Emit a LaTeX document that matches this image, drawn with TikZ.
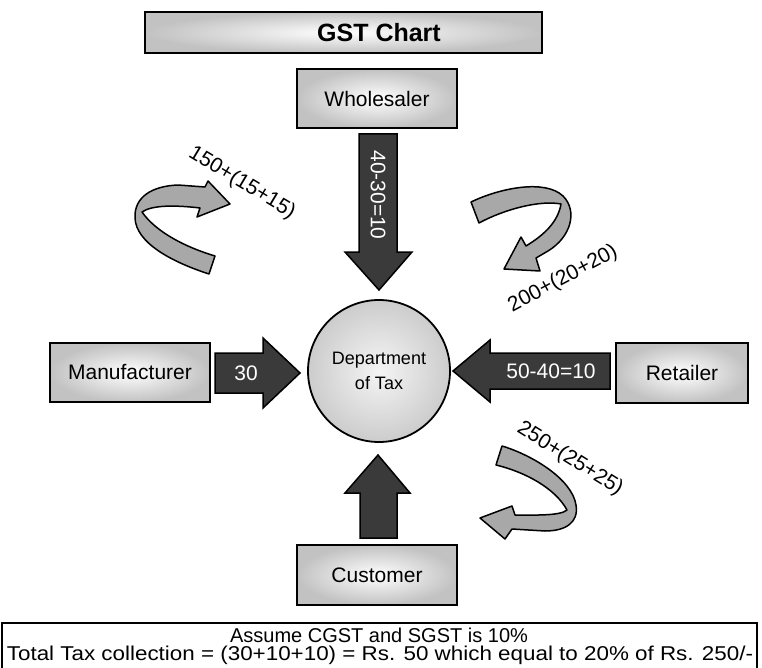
\documentclass[tikz,border=0pt]{standalone}
\usepackage{fontspec}
\setmainfont{Liberation Sans}
\definecolor{darkarrow}{HTML}{3A3A3A}
\definecolor{ribbon}{HTML}{A8A8A8}
\begin{document}
\begin{tikzpicture}[x=1pt,y=-1pt,
  box/.style={draw=black, line width=1.8pt, inner color=white, outer color=black!24, shading=radial,
    font=\fontsize{21}{24}\selectfont, inner sep=0pt},
  blockarrow/.style={draw=black, line width=1.5pt, fill=darkarrow, line join=miter},
  curvearrow/.style={draw=black, line width=1.5pt, fill=ribbon, line join=round},
  lbl/.style={font=\fontsize{21}{24}\selectfont, inner sep=0pt},
  wlbl/.style={font=\fontsize{21}{24}\selectfont, text=white, inner sep=0pt}]
\useasboundingbox (0,0) rectangle (762,668);

% boxes
\node[box, minimum width=397pt, minimum height=41pt] (title) at (343.5,32.5) {};
\node[font=\bfseries\fontsize{25}{28}\selectfont, inner sep=0pt] (titletext) at (379,32.5) {GST Chart};
\node[box, minimum width=160pt, minimum height=59pt] (whole) at (377,98.5) {Wholesaler};
\node[box, minimum width=160pt, minimum height=59pt] (manu) at (130,372.5) {Manufacturer};
\node[box, minimum width=132pt, minimum height=60pt] (retail) at (682,373) {Retailer};
\node[box, minimum width=160pt, minimum height=60pt] (cust) at (377,575) {Customer};
\node[draw=black, line width=1.8pt, circle, minimum size=142pt, inner sep=0pt, inner color=black!4, outer color=black!20,
  shading=radial, align=center, font=\fontsize{18}{25}\selectfont] (dept) at (379,371) {Department\\of Tax};

% dark block arrows
\draw[blockarrow] (359,134) -- (397,134) -- (397,252) -- (412,252) -- (379,290) -- (345,252) -- (359,252) -- cycle;
\node[wlbl, rotate=-90] (t1) at (378,195) {40-30=10};
\draw[blockarrow] (215,353) -- (263,353) -- (263,338) -- (300,373) -- (263,408) -- (263,393) -- (215,393) -- cycle;
\node[wlbl] (t2) at (246,373) {30};
\draw[blockarrow] (610,353) -- (490,353) -- (490,340) -- (453,371) -- (490,402) -- (490,389) -- (610,389) -- cycle;
\node[wlbl] (t3) at (551,371) {50-40=10};
\draw[blockarrow] (360,538) -- (360,493) -- (345,493) -- (378,455) -- (410,493) -- (397,493) -- (397,538) -- cycle;

% curved ribbon arrows
\draw[curvearrow] (209,274) .. controls (172,262) and (136,243) .. (135,218)
  .. controls (134,197) and (152,186) .. (178,185) -- (205,187) -- (208,181) -- (230,204) -- (197,217) -- (200,208)
  .. controls (175,205) and (152,205) .. (142,212)
  .. controls (156,232) and (185,247) .. (215,256) -- cycle;
\node[lbl, rotate=-31] (la) at (242,183) {150+(15+15)};

\draw[curvearrow] (471,202) .. controls (500,188) and (545,179) .. (563,196)
  .. controls (578,211) and (571,237) .. (548,251) -- (536,258) -- (540,271) -- (504,269) -- (521,237) -- (526,246)
  .. controls (544,235) and (558,222) .. (561,204)
  .. controls (540,200) and (505,209) .. (479,223) -- cycle;
\node[lbl, rotate=28] (lb) at (563,279) {200+(20+20)};

\draw[curvearrow] (502,446) .. controls (532,455) and (572,479) .. (576,505)
  .. controls (579,523) and (565,531) .. (545,531) -- (512,529) -- (505,539) -- (480,518) -- (512,506) -- (515,515)
  .. controls (535,515) and (560,516) .. (567,510)
  .. controls (555,488) and (525,472) .. (496,465) -- cycle;
\node[lbl, rotate=-32] (lc) at (570,459) {250+(25+25)};

% bottom note
\draw[line width=1.8pt, fill=white] (2,623) rectangle (757,680);
\node[lbl, font=\fontsize{20}{21}\selectfont] (note1) at (379,635) {Assume CGST and SGST is 10\%};
\node[lbl, font=\fontsize{20}{21}\selectfont] (note2) at (380,655) {\scalebox{1.12}[1]{Total Tax collection = (30+10+10) = Rs. 50 which equal to 20\% of Rs. 250/-}};
\end{tikzpicture}
\end{document}
